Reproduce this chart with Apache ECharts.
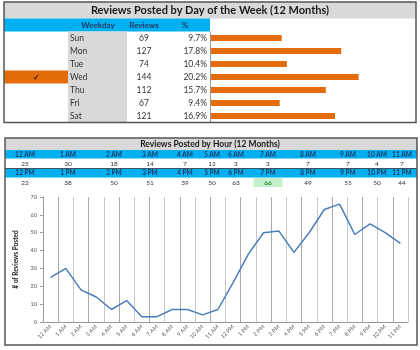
<!DOCTYPE html>
<html>
<head>
<meta charset="utf-8">
<script src="https://cdn.jsdelivr.net/npm/echarts@6/dist/echarts.min.js"></script>
<style>
  html, body { margin: 0; padding: 0; background: #fff; }
  #main { width: 420px; height: 350px; }
</style>
</head>
<body>
<div id="main"></div>
<script>
// 数据
var days = ['Sun', 'Mon', 'Tue', 'Wed', 'Thu', 'Fri', 'Sat'];
var dayReviews = [69, 127, 74, 144, 112, 67, 121];
var dayPct = ['9.7%', '17.8%', '10.4%', '20.2%', '15.7%', '9.4%', '16.9%'];
var selectedDay = 'Wed';

var hoursAM = ['12 AM', '1 AM', '2 AM', '3 AM', '4 AM', '5 AM', '6 AM', '7 AM', '8 AM', '9 AM', '10 AM', '11 AM'];
var hoursPM = ['12 PM', '1 PM', '2 PM', '3 PM', '4 PM', '5 PM', '6 PM', '7 PM', '8 PM', '9 PM', '10 PM', '11 PM'];
var reviewsAM = [25, 30, 18, 14, 7, 12, 3, 3, 7, 7, 4, 7];
var reviewsPM = [22, 38, 50, 51, 39, 50, 63, 66, 49, 55, 50, 44];

var myChart = echarts.init(document.getElementById('main'));

var FONT = 'Lato, "Open Sans", sans-serif';
var navy = '#1f3864';

// 表格位置
var rowTop = 31.5, rowH = 13;
var colX = [25, 68, 114, 150, 185, 212, 236, 268, 308, 348, 377, 402];

var graphics = [];

function txt(x, y, s, size, opts) {
	opts = opts || {};
	graphics.push({
		type: 'text', z: 10,
		style: {
			x: x, y: y, text: s,
			font: (opts.bold ? 'bold ' : '') + size + 'px ' + FONT,
			fill: opts.color || '#222',
			textAlign: opts.align || 'center',
			textVerticalAlign: 'middle'
		}
	});
}
function box(x, y, w, h, fill, z) {
	graphics.push({ type: 'rect', z: z || 1, shape: { x: x, y: y, width: w, height: h }, style: { fill: fill } });
}
function line(x1, y1, x2, y2, color, w, z) {
	graphics.push({ type: 'line', z: z || 5, shape: { x1: x1, y1: y1, x2: x2, y2: y2 }, style: { stroke: color, lineWidth: w || 1 } });
}

// ---- 上半部分：按星期 ----
box(4, 2, 412, 16.5, '#d9d9d9');
txt(210, 10.5, 'Reviews Posted by Day of the Week (12 Months)', 11, { bold: true, color: '#1a1a1a' });
box(4, 18.5, 206, 13, '#00b0f0');
txt(98, 25, 'Weekday', 8, { bold: true, color: navy });
txt(144, 25, 'Reviews', 8, { bold: true, color: navy });
txt(185, 25, '%', 8, { bold: true, color: navy });
box(68, rowTop, 59, rowH * 7, '#d9d9d9');
line(210.5, rowTop, 210.5, 122.5, '#999', 1);

for (var i = 0; i < days.length; i++) {
	var cy = rowTop + rowH * i + rowH / 2;
	if (days[i] === selectedDay) {
		box(4, rowTop + rowH * i, 64, rowH, '#e46c0a', 2);
		txt(36, cy, '✓', 8, { color: '#2a1000', bold: true });
	}
	txt(70, cy, days[i], 8.5, { align: 'left', color: '#333' });
	txt(144, cy, String(dayReviews[i]), 8.5, { color: '#333' });
	txt(207, cy, dayPct[i], 8.5, { align: 'right', color: '#333' });
}
graphics.push({ type: 'rect', z: 20, shape: { x: 4, y: 2, width: 412, height: 120.5 }, style: { fill: 'none', stroke: '#555', lineWidth: 1.5 } });

// ---- 下半部分：按小时 ----
box(5, 138, 412, 12, '#d9d9d9');
txt(210, 144.5, 'Reviews Posted by Hour (12 Months)', 8.5, { bold: true, color: '#1a1a1a' });
box(5, 150, 412, 8.5, '#00b0f0');
box(5, 168.5, 412, 9, '#00b0f0');
line(5, 168.5, 417, 168.5, '#333', 0.8);
for (var j = 0; j < 12; j++) {
	txt(colX[j], 154.5, hoursAM[j], 6.5, { bold: true, color: navy });
	txt(colX[j], 163.5, String(reviewsAM[j]), 6.5, { color: '#333' });
	txt(colX[j], 173, hoursPM[j], 6.5, { bold: true, color: navy });
	if (reviewsPM[j] === Math.max.apply(null, reviewsPM)) {
		box(colX[j] - 14.5, 178, 29, 9, '#c6efce', 2);
		txt(colX[j], 182.5, String(reviewsPM[j]), 6.5, { color: '#006100' });
	} else {
		txt(colX[j], 182.5, String(reviewsPM[j]), 6.5, { color: '#333' });
	}
}
graphics.push({ type: 'rect', z: 20, shape: { x: 5, y: 138, width: 412, height: 207 }, style: { fill: 'none', stroke: '#555', lineWidth: 1.5 } });

var option = {
	backgroundColor: '#fff',
	animation: false,
	graphic: graphics,
	grid: [
		{ left: 211, top: rowTop, width: 205, height: rowH * 7 },
		{ left: 43, right: 12, top: 197, bottom: 28 }
	],
	xAxis: [
		{ gridIndex: 0, type: 'value', min: 0, max: 200, show: false },
		{
			gridIndex: 1, type: 'category', data: hoursAM.concat(hoursPM),
			axisLine: { lineStyle: { color: '#999' } },
			axisTick: { interval: 0, length: 3, lineStyle: { color: '#999' } },
			splitLine: { show: true, interval: 0, lineStyle: { color: ['#c8c8c8', '#a8a8a8'], width: 1 } },
			axisLabel: { interval: 0, rotate: 45, fontSize: 5.5, color: '#555', fontFamily: FONT, margin: 4 }
		}
	],
	yAxis: [
		{ gridIndex: 0, type: 'category', data: days, inverse: true, show: false },
		{
			gridIndex: 1, type: 'value', min: 0, max: 70, interval: 10,
			name: '# of Reviews Posted', nameLocation: 'middle', nameGap: 20,
			nameTextStyle: { fontSize: 6.5, fontWeight: 'bold', color: '#222', fontFamily: FONT },
			axisLine: { show: true, lineStyle: { color: '#999' } },
			axisTick: { show: true, length: 3, lineStyle: { color: '#999' } },
			splitLine: { show: false },
			axisLabel: { fontSize: 5.5, color: '#555', fontFamily: FONT, margin: 6 }
		}
	],
	series: [
		{
			type: 'bar', xAxisIndex: 0, yAxisIndex: 0, data: dayReviews,
			barWidth: 6, itemStyle: { color: '#e46c0a' }, silent: true
		},
		{
			type: 'line', xAxisIndex: 1, yAxisIndex: 1, data: reviewsAM.concat(reviewsPM),
			symbol: 'none', lineStyle: { color: '#4a7ebb', width: 1.5 }, silent: true
		}
	]
};

myChart.setOption(option);
</script>
</body>
</html>
